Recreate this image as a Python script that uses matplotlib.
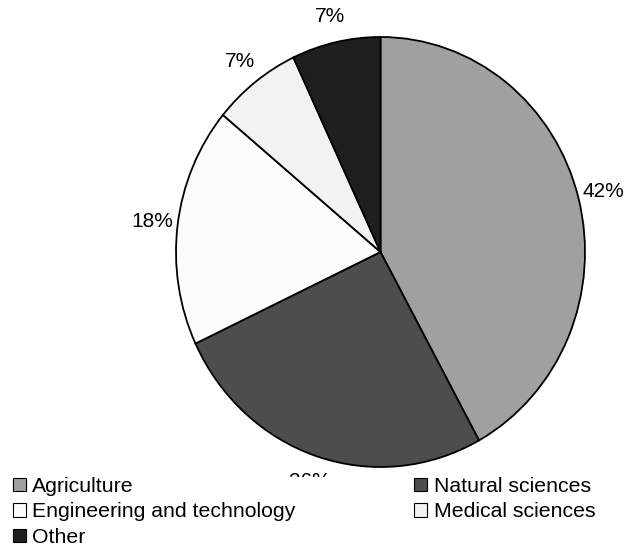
import numpy as np
import matplotlib.pyplot as plt
from matplotlib.patches import Patch

plt.rcParams['font.family'] = ['Liberation Sans', 'DejaVu Sans']

categories = ['Agriculture', 'Natural sciences', 'Engineering and technology',
              'Medical sciences', 'Other']
shares = [42, 26, 18, 7, 7]
colors = ['#a0a0a0', '#4d4d4d', '#fcfcfc', '#f2f2f2', '#1f1f1f']

fig = plt.figure(figsize=(6.28, 5.48), dpi=100)
# pie slightly taller than wide: centre (380.5, 252) px, radii 204.5 x 215 px
cx, cy, rx, ry = 380.5, 252, 204.5, 215
ax = fig.add_axes([(cx - rx) / 628, (548 - cy - ry) / 548, 2 * rx / 628, 2 * ry / 548])

wedges, _ = ax.pie(shares, colors=colors, startangle=90, counterclock=False,
                   wedgeprops={'edgecolor': 'black', 'linewidth': 1.3})

# percentage labels: a fixed pixel gap beyond the rim, along each wedge's middle
gap = 26
for w, v in zip(wedges, shares):
    mid = np.deg2rad((w.theta1 + w.theta2) / 2)
    ex, ey = rx * np.cos(mid), ry * np.sin(mid)
    rim = np.hypot(ex, ey)
    scale = (rim + gap) / rim
    ax.text(ex * scale / rx, ey * scale / ry, f'{v}%',
            ha='center', va='center', fontsize=15)

ax.set_xlim(-1, 1)
ax.set_ylim(-1, 1)
ax.set_aspect('auto')
ax.axis('off')

# legend reads row by row: reorder for matplotlib's column-major filling
order = [0, 2, 4, 1, 3]
handles = [Patch(facecolor=colors[i], edgecolor='black', linewidth=0.8) for i in order]
labels = [categories[i] for i in order]
leg = fig.legend(handles, labels, ncol=2, loc='upper left',
                 bbox_to_anchor=(13 / 628, 1 - 477 / 548),
                 frameon=True, fontsize=15.3, handlelength=0.6, handleheight=0.6,
                 handletextpad=0.3, columnspacing=5.6, labelspacing=0.3,
                 borderpad=0.0, borderaxespad=0)
leg.get_frame().set_edgecolor('none')
leg.get_frame().set_facecolor('white')
leg.get_frame().set_alpha(1)

fig.savefig('out.png', dpi=100)
